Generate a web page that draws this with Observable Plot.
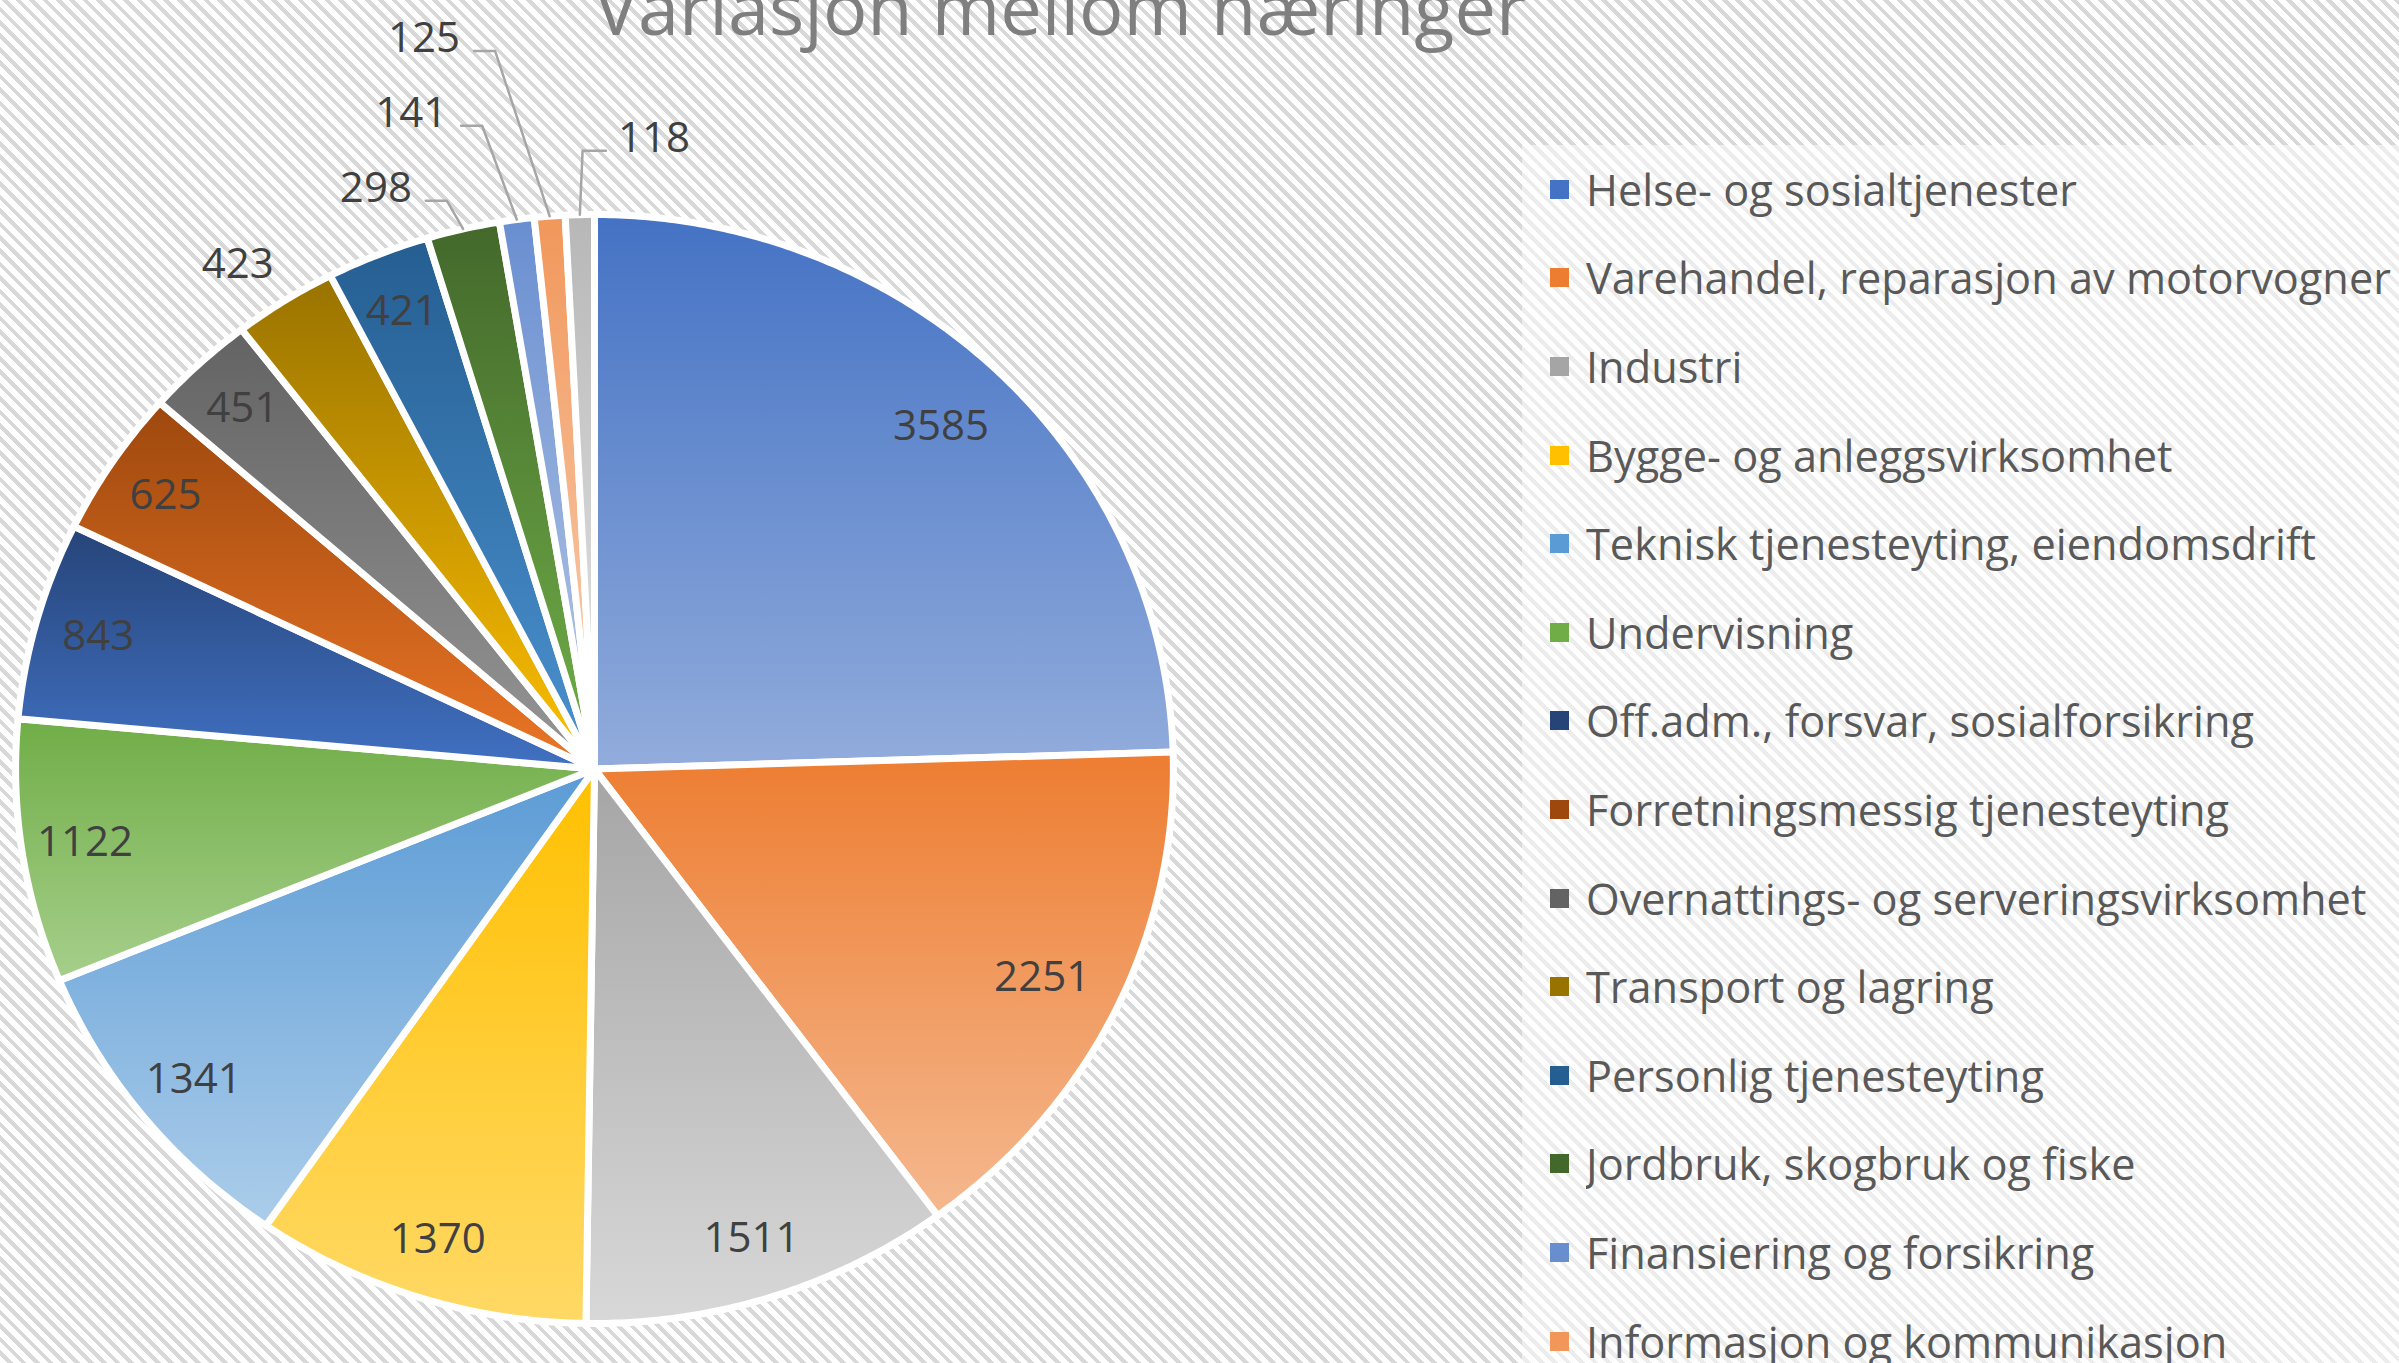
<!DOCTYPE html>
<html>
<head>
<meta charset="utf-8">
<script src="https://cdn.jsdelivr.net/npm/d3@7"></script>
<script src="https://cdn.jsdelivr.net/npm/@observablehq/plot@0.6"></script>
<style>
  html, body { margin: 0; padding: 0; width: 2399px; height: 1363px; overflow: hidden; }
  body {
    position: relative;
    font-family: "Open Sans", sans-serif;
    background: repeating-linear-gradient(45deg, #ffffff 0px, #ffffff 5.5px, #d8d8d8 5.5px, #d8d8d8 9.5px);
  }
  #box { position: absolute; left: 1522px; top: 145px; width: 900px; height: 1300px; background: rgba(255,255,255,0.5); }
  #chart { position: absolute; left: 0; top: 0; }
  #title { position: absolute; left: 594px; top: -30.5px; font-size: 73.9px; line-height: 73.9px; color: #7f7f7f; white-space: nowrap; }
  #legend { position: absolute; left: 1550px; top: 145px; width: 880px; }
  #legend > div { font-family: "Open Sans", sans-serif; font-size: 43.3px; color: #595959; margin: 0; }
  #legend > div > div, #legend > div > span { height: 88.6px; padding: 0; margin: 0; display: flex; align-items: center; }
  #legend svg { margin-right: 17px; flex-shrink: 0; }
</style>
</head>
<body>
<div id="box"></div>
<div id="chart"></div>
<div id="legend"></div>
<div id="title">Variasjon mellom næringer</div>
<script>
// ---- data ----
const categories = [
  "Helse- og sosialtjenester",
  "Varehandel, reparasjon av motorvogner",
  "Industri",
  "Bygge- og anleggsvirksomhet",
  "Teknisk tjenesteyting, eiendomsdrift",
  "Undervisning",
  "Off.adm., forsvar, sosialforsikring",
  "Forretningsmessig tjenesteyting",
  "Overnattings- og serveringsvirksomhet",
  "Transport og lagring",
  "Personlig tjenesteyting",
  "Jordbruk, skogbruk og fiske",
  "Finansiering og forsikring",
  "Informasjon og kommunikasjon",
  "Elektrisitet, vann og renovasjon"
];
const values = [3585, 2251, 1511, 1370, 1341, 1122, 843, 625, 451, 423, 421, 298, 141, 125, 118];
const colors = [
  "#4472C4", "#ED7D31", "#A5A5A5", "#FFC000", "#5B9BD5", "#70AD47",
  "#264478", "#9E480E", "#636363", "#997300", "#255E91", "#43682B",
  "#698ED0", "#F1975A", "#B7B7B7"
];

// ---- layout rules ----
const ASPECT = 1.044;          // horizontal stretch of the pie in the picture
const INSIDE_R = 0.89;
const OUTSIDE_R = 1.1;
const LEADER_BELOW = 300;      // smaller slices get a label with a leader line
const OUTSIDE_NO_LEADER = new Set(["Transport og lagring"]);

const pt = (ang, r) => [ASPECT * r * Math.sin(ang), -r * Math.cos(ang)];
const arcs = d3.pie().sort(null).value(d => d)(values);
const mids = arcs.map(a => (a.startAngle + a.endAngle) / 2);

const slices = arcs.map((a, i) => {
  const n = Math.max(2, Math.ceil((a.endAngle - a.startAngle) / (Math.PI / 360)));
  const ring = [[0, 0]];
  for (let k = 0; k <= n; k++) ring.push(pt(a.startAngle + (a.endAngle - a.startAngle) * k / n, 1));
  ring.push([0, 0]);
  return {type: "Feature", properties: {i, name: categories[i], value: values[i]},
          geometry: {type: "Polygon", coordinates: [ring]}};
});

const frame = {type: "Polygon", coordinates: [[[-ASPECT, -1], [ASPECT, -1], [ASPECT, 1], [-ASPECT, 1], [-ASPECT, -1]]]};

// labels
const insideLabels = [], plainOutside = [];
values.forEach((v, i) => {
  if (v < LEADER_BELOW) return;
  if (OUTSIDE_NO_LEADER.has(categories[i])) {
    const [x, y] = pt(mids[i], OUTSIDE_R); plainOutside.push({x, y, label: String(v)});
  } else {
    // the largest slices carry their label a little further in
    const r = INSIDE_R - (v / d3.sum(values) > 0.15 ? 0.03 : 0);
    const [x, y] = pt(mids[i], r); insideLabels.push({x, y, label: String(v)});
  }
});
const leaderIdx = values.map((v, i) => i).filter(i => values[i] < LEADER_BELOW).sort((a, b) => mids[b] - mids[a]);
const rightIdx = leaderIdx.slice(0, 1), leftIdx = leaderIdx.slice(1);
const leaderPts = [], leftLabels = [], rightLabels = [];
leftIdx.forEach((i, rank) => {
  const [ex, ey] = pt(mids[i], 1);
  const by = -1.025 - 0.135 * (leftIdx.length - 1 - rank);
  const bx = ex - 0.28 * (ey - by) - 0.015;
  const endx = bx - 0.038;
  leaderPts.push({x: ex, y: ey, name: categories[i]}, {x: bx, y: by, name: categories[i]}, {x: endx, y: by, name: categories[i]});
  leftLabels.push({x: endx - 0.025, y: by, label: String(values[i])});
});
rightIdx.forEach(i => {
  const [ex, ey] = pt(mids[i], 1);
  const by = -1.115, bx = ex + 0.005, endx = bx + 0.042;
  leaderPts.push({x: ex, y: ey, name: categories[i]}, {x: bx, y: by, name: categories[i]}, {x: endx, y: by, name: categories[i]});
  rightLabels.push({x: endx + 0.022, y: by, label: String(values[i])});
});

const plot = Plot.plot({
  width: 2399, height: 1363,
  marginLeft: 15, marginRight: 1226, marginTop: 214, marginBottom: 40,
  projection: {type: "identity", domain: frame, clip: false},
  color: {type: "identity"},
  style: {background: "transparent", overflow: "visible", fontFamily: "Open Sans, sans-serif"},
  marks: [
    Plot.geo(slices, {fill: d => `url(#slice-grad-${d.properties.i})`, stroke: "white", strokeWidth: 7, strokeLinejoin: "round"}),
    Plot.line(leaderPts, {x: "x", y: "y", z: "name", stroke: "#a6a6a6", strokeWidth: 2.5}),
    Plot.text(insideLabels, {x: "x", y: "y", text: "label", fontSize: 42, fill: "#404040"}),
    Plot.text(plainOutside, {x: "x", y: "y", text: "label", fontSize: 42, fill: "#404040", dx: -16, dy: 11}),
    Plot.text(leftLabels, {x: "x", y: "y", text: "label", fontSize: 42, fill: "#404040", textAnchor: "end", dy: -12}),
    Plot.text(rightLabels, {x: "x", y: "y", text: "label", fontSize: 42, fill: "#404040", textAnchor: "start", dy: -12})
  ]
});

const defs = d3.select(plot).insert("defs", ":first-child");
colors.forEach((c, i) => {
  const g = defs.append("linearGradient").attr("id", `slice-grad-${i}`)
    .attr("x1", 0).attr("y1", 0).attr("x2", 0).attr("y2", 1);
  const h = d3.hsl(c); h.l = Math.min(0.9, h.l + 0.2);
  g.append("stop").attr("offset", 0).attr("stop-color", c);
  g.append("stop").attr("offset", 1).attr("stop-color", h.formatHex());
});
document.getElementById("chart").appendChild(plot);

const legend = Plot.legend({
  color: {type: "ordinal", domain: categories, range: colors},
  legend: "swatches", columns: 1, swatchSize: 19, className: "leg"
});
document.getElementById("legend").appendChild(legend);
</script>
</body>
</html>
